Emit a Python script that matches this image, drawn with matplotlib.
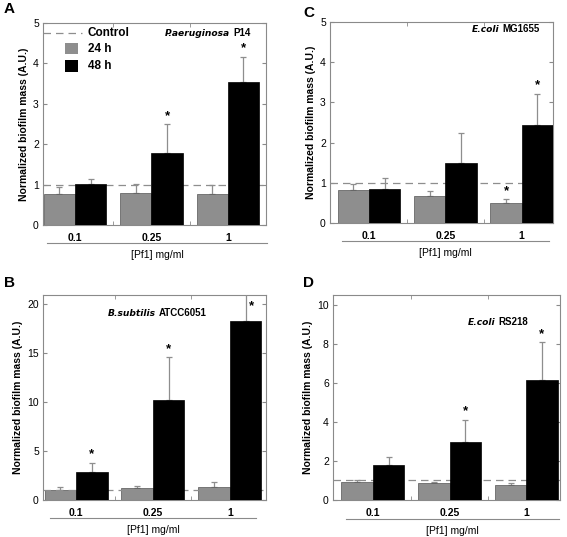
import matplotlib
matplotlib.use("Agg")
import matplotlib.pyplot as plt
from matplotlib.patches import Rectangle
from matplotlib.lines import Line2D

plt.rcParams['font.family'] = ['Liberation Sans', 'DejaVu Sans']

doses = ["0.1", "0.25", "1"]

# panel A - P.aeruginosa P14
a_24 = [0.76, 0.79, 0.76]
a_24_err = [0.17, 0.22, 0.22]
a_48 = [1.01, 1.79, 3.53]
a_48_err = [0.12, 0.71, 0.64]
a_stars_24 = [False, False, False]
a_stars_48 = [False, True, True]

# panel C - E.coli MG1655
c_24 = [0.81, 0.68, 0.50]
c_24_err = [0.17, 0.12, 0.09]
c_48 = [0.84, 1.50, 2.44]
c_48_err = [0.28, 0.73, 0.78]
c_stars_24 = [False, False, True]
c_stars_48 = [False, False, True]

# panel B - B.subtilis ATCC6051
b_24 = [1.06, 1.23, 1.37]
b_24_err = [0.24, 0.24, 0.51]
b_48 = [2.84, 10.2, 18.3]
b_48_err = [0.96, 4.4, 2.7]
b_stars_24 = [False, False, False]
b_stars_48 = [True, True, True]

# panel D - E.coli RS218
d_24 = [0.90, 0.85, 0.77]
d_24_err = [0.12, 0.09, 0.12]
d_48 = [1.79, 2.98, 6.17]
d_48_err = [0.41, 1.14, 1.92]
d_stars_24 = [False, False, False]
d_stars_48 = [False, True, True]

control = 1.0

W, H = 567, 537
fig = plt.figure(figsize=(W / 100, H / 100), dpi=100)

GRAY = "#8e8e8e"
SPINE = "#8a8a8a"
bw = 0.41


def px_axes(x0, y0, x1, y1):
    return fig.add_axes([x0 / W, 1 - y1 / H, (x1 - x0) / W, (y1 - y0) / H])


def panel(box, letter, letter_xy, v24, e24, v48, e48, s24, s48, ymax, yticks,
          xlim, strain_it, strain_rest, strain_xy, line_y, line_x, legend=False):
    ax = px_axes(*box)
    x = list(range(len(doses)))
    x24 = [i - bw / 2 for i in x]
    x48 = [i + bw / 2 for i in x]
    ax.bar(x24, v24, bw, color=GRAY, edgecolor="#555555", linewidth=0.5, zorder=2)
    ax.bar(x48, v48, bw, color="black", edgecolor="black", linewidth=0.5, zorder=4)
    ax.errorbar(x24, v24, yerr=[[0] * 3, e24], fmt="none", ecolor=GRAY,
                elinewidth=0.9, capsize=2.5, capthick=0.9, zorder=1.5)
    ax.errorbar(x48, v48, yerr=[[0] * 3, e48], fmt="none", ecolor=GRAY,
                elinewidth=0.9, capsize=2.5, capthick=0.9, zorder=3.5)
    ax.axhline(control, color=GRAY, linestyle=(0, (6, 4)), linewidth=0.9, zorder=3)

    for xs, vs, es, ss in ((x24, v24, e24, s24), (x48, v48, e48, s48)):
        for xi, vi, ei, si in zip(xs, vs, es, ss):
            if not si:
                continue
            top = vi + ei
            if top > ymax * 0.97:
                ax.annotate("*", (xi + 0.07, ymax), xytext=(0, -4),
                            textcoords="offset points", ha="center", va="top",
                            fontsize=9.5, fontweight="bold")
            else:
                ax.annotate("*", (xi, top), xytext=(0, 1.5),
                            textcoords="offset points", ha="center", va="bottom",
                            fontsize=9.5, fontweight="bold")

    ax.set_xlim(*xlim)
    ax.set_ylim(0, ymax)
    ax.set_yticks(yticks)
    ax.set_xticks(x)
    ax.set_xticklabels(doses, fontweight="bold", fontsize=7.5)
    ax.set_xticks([0.5, 1.5], minor=True)
    ax.tick_params(axis="x", which="major", length=0, pad=6)
    ax.tick_params(axis="x", which="minor", direction="in", length=3,
                   top=True, bottom=True, color=SPINE)
    ax.tick_params(axis="y", direction="in", length=3, right=True, color=SPINE,
                   labelsize=7.5, pad=3)
    for sp in ax.spines.values():
        sp.set_color(SPINE)
        sp.set_linewidth(0.8)
    ax.set_ylabel("Normalized biofilm mass (A.U.)", fontweight="bold", fontsize=7.5,
                  labelpad=3)

    # strain name: italic species followed by bold strain code
    code = ax.text(strain_xy[0], strain_xy[1], strain_rest, transform=ax.transAxes,
                   ha="right", va="center", fontsize=7, fontweight="bold")
    ax.annotate(strain_it, xy=(0, 0.5), xycoords=code, xytext=(-2, 0),
                textcoords="offset points", ha="right", va="center", fontsize=6.6,
                family="DejaVu Sans", fontstyle="italic", fontweight="bold")

    fig.add_artist(Line2D([line_x[0] / W, line_x[1] / W], [1 - line_y / H] * 2,
                          color=SPINE, linewidth=0.8))
    fig.text((line_x[0] + line_x[1]) / 2 / W, 1 - (line_y + 12) / H, "[Pf1] mg/ml",
             ha="center", va="center", fontsize=7.5)
    fig.text(letter_xy[0] / W, 1 - letter_xy[1] / H, letter, ha="left", va="center",
             fontsize=11, fontweight="bold")

    if legend:
        ax.add_line(Line2D([0.0, 0.175], [0.95, 0.95], transform=ax.transAxes,
                           color=GRAY, linestyle=(0, (6, 4)), linewidth=0.9))
        ax.add_patch(Rectangle((0.099, 0.846), 0.058, 0.054, transform=ax.transAxes,
                               facecolor=GRAY, edgecolor="none"))
        ax.add_patch(Rectangle((0.099, 0.758), 0.058, 0.058, transform=ax.transAxes,
                               facecolor="black", edgecolor="none"))
        for yy, lab in ((0.95, "Control"), (0.873, "24 h"), (0.787, "48 h")):
            ax.text(0.2, yy, lab, transform=ax.transAxes, ha="left", va="center",
                    fontsize=8.5, fontweight="bold")
    return ax


panel((43, 23, 266, 225), "A", (4, 9), a_24, a_24_err, a_48, a_48_err,
      a_stars_24, a_stars_48, 5, range(0, 6), (-0.42, 2.5),
      "P.aeruginosa", "P14", (0.93, 0.95), 243, (47, 267), legend=True)
panel((330, 22, 553, 223), "C", (303, 13), c_24, c_24_err, c_48, c_48_err,
      c_stars_24, c_stars_48, 5, range(0, 6), (-0.51, 2.41),
      "E.coli", "MG1655", (0.94, 0.965), 241, (342, 549))
panel((43, 295, 266, 500), "B", (4, 283), b_24, b_24_err, b_48, b_48_err,
      b_stars_24, b_stars_48, 20.9, range(0, 21, 5), (-0.43, 2.47),
      "B.subtilis", "ATCC6051", (0.735, 0.912), 518, (50, 256))
panel((333, 295, 560, 500), "D", (303, 283), d_24, d_24_err, d_48, d_48_err,
      d_stars_24, d_stars_48, 10.5, range(0, 11, 2), (-0.52, 2.44),
      "E.coli", "RS218", (0.86, 0.868), 519, (346, 559))

fig.savefig("out.png", dpi=100)
